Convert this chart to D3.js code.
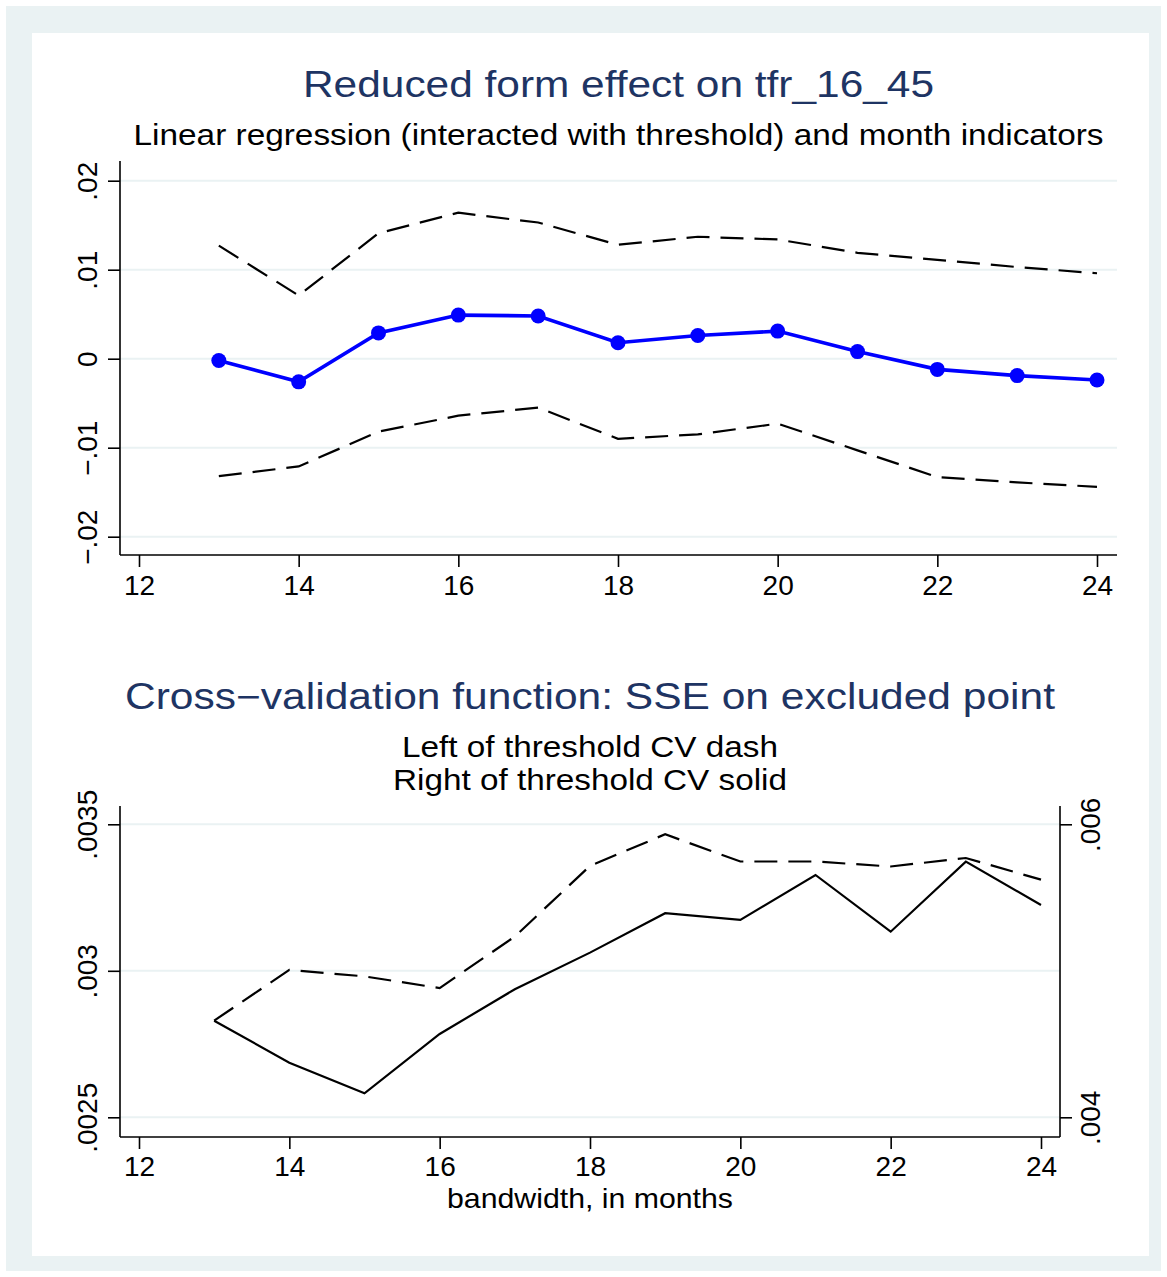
<!DOCTYPE html>
<html>
<head>
<meta charset="utf-8">
<script src="https://cdn.jsdelivr.net/npm/d3@7"></script>
<style>
  body { margin: 0; background: #fff; }
  text { font-family: "Liberation Sans", Arial, sans-serif; }
</style>
</head>
<body>
<script>
// bandwidth in months
const bandwidth = [13, 14, 15, 16, 17, 18, 19, 20, 21, 22, 23, 24];

// reduced form estimate and 95% band
const estimate = [-0.0002, -0.0026, 0.0029, 0.0049, 0.0048, 0.0018, 0.0026, 0.0031, 0.0008, -0.0012, -0.0019, -0.0024];
const ciUpper = [0.0127, 0.0071, 0.0141, 0.0164, 0.0153, 0.0128, 0.0137, 0.0134, 0.0119, 0.0111, 0.0103, 0.0096];
const ciLower = [-0.0132, -0.0121, -0.0082, -0.0064, -0.0055, -0.0090, -0.0085, -0.0073, -0.0103, -0.0133, -0.0139, -0.0144];

// cross-validation SSE, left (dash, left axis) and right (solid, right axis)
const cvLeft = [0.00283, 0.003003, 0.002981, 0.002941, 0.003117, 0.003358, 0.003466, 0.003373, 0.003373, 0.003356, 0.003385, 0.003311];
const cvRight = [0.004659, 0.004373, 0.004164, 0.004569, 0.004874, 0.005124, 0.005393, 0.005347, 0.005654, 0.005267, 0.005745, 0.005449];

// tick labels
const xTicks = [12, 14, 16, 18, 20, 22, 24];
const topTicks = [-0.02, -0.01, 0, 0.01, 0.02];
const topTickLabels = ['\u2212.02', '\u2212.01', '0', '.01', '.02'];
const cvLeftTicks = [0.0025, 0.003, 0.0035];
const cvLeftLabels = ['.0025', '.003', '.0035'];
const cvRightTicks = [0.004, 0.006];
const cvRightLabels = ['.004', '.006'];

function fn() {
  const W = 1167, H = 1277;
  const grid = '#eaf2f3';
  const navy = '#1e3463';

  const svg = d3.select('body').append('svg')
    .attr('width', W)
    .attr('height', H);

  // stata style frame
  svg.append('rect').attr('x', 6).attr('y', 6).attr('width', 1155).attr('height', 1265).attr('fill', grid);
  svg.append('rect').attr('x', 32).attr('y', 33).attr('width', 1117).attr('height', 1223).attr('fill', '#fff');

  function styleAxis(g) {
    g.selectAll('path.domain').attr('stroke', '#000').attr('stroke-width', 1.6);
    g.selectAll('.tick line').attr('stroke', '#000').attr('stroke-width', 1.6);
    g.selectAll('.tick text').attr('fill', '#000').style('font-size', '28px')
      .style('font-family', '"Liberation Sans", Arial, sans-serif');
  }

  // centred text, stretched to the width seen in the original export
  function label(x, y, size, len, str, color) {
    svg.append('text')
      .attr('x', x).attr('y', y)
      .attr('text-anchor', 'middle')
      .attr('fill', color || '#000')
      .attr('textLength', len)
      .attr('lengthAdjust', 'spacingAndGlyphs')
      .style('font-size', size + 'px')
      .text(str);
  }

  // ---------- top panel ----------
  let m1 = { left: 120, top: 161 },
    w1 = 997,
    h1 = 394;

  const x1 = d3.scaleLinear().domain([12, 24]).range([19, 977]);
  const y1 = d3.scaleLinear().domain([-0.02, 0.02]).range([375.7, 19.7]);

  const g1 = svg.append('g').attr('transform', `translate(${m1.left},${m1.top})`);

  g1.selectAll('.grid')
    .data(topTicks)
    .enter().append('line')
    .attr('x1', 0).attr('x2', w1)
    .attr('y1', d => y1(d)).attr('y2', d => y1(d))
    .attr('stroke', grid).attr('stroke-width', 2);

  const band = d3.line().x((d, i) => x1(bandwidth[i])).y(d => y1(d));
  [ciUpper, ciLower].forEach((s) => {
    g1.append('path')
      .attr('d', band(s))
      .attr('fill', 'none')
      .attr('stroke', '#000')
      .attr('stroke-width', 2.2)
      .attr('stroke-dasharray', '23,11');
  });

  g1.append('path')
    .attr('d', band(estimate))
    .attr('fill', 'none')
    .attr('stroke', '#0000ff')
    .attr('stroke-width', 3.6);

  g1.selectAll('.dot')
    .data(estimate)
    .enter().append('circle')
    .attr('cx', (d, i) => x1(bandwidth[i]))
    .attr('cy', d => y1(d))
    .attr('r', 7.5)
    .attr('fill', '#0000ff');

  const xa1 = g1.append('g')
    .attr('transform', `translate(0,${h1})`)
    .call(d3.axisBottom(x1).tickValues(xTicks).tickFormat(d3.format('d')).tickSize(12).tickSizeOuter(0));
  xa1.select('path.domain').attr('d', `M0,0H${w1}`);
  styleAxis(xa1);
  xa1.selectAll('.tick text').attr('y', 40).attr('dy', 0);

  const ya1 = g1.append('g')
    .call(d3.axisLeft(y1).tickValues(topTicks).tickFormat((d, i) => topTickLabels[i]).tickSize(12).tickSizeOuter(0));
  ya1.select('path.domain').attr('d', `M0,0V${h1}`);
  styleAxis(ya1);
  ya1.selectAll('.tick text')
    .attr('transform', 'rotate(-90)')
    .attr('x', 0).attr('y', -23).attr('dy', 0)
    .style('text-anchor', 'middle');

  label(m1.left + w1 / 2, 97, 36, 631, 'Reduced form effect on tfr_16_45', navy);
  label(m1.left + w1 / 2, 145, 29, 970, 'Linear regression (interacted with threshold) and month indicators');

  // ---------- bottom panel ----------
  let m2 = { left: 120, top: 806 },
    w2 = 940,
    h2 = 331;

  const x2 = d3.scaleLinear().domain([12, 24]).range([19, 921]);
  const yL = d3.scaleLinear().domain([0.0025, 0.0035]).range([311.3, 18.3]);
  const yR = d3.scaleLinear().domain([0.004, 0.006]).range([311.3, 18.3]);

  const g2 = svg.append('g').attr('transform', `translate(${m2.left},${m2.top})`);

  g2.selectAll('.grid')
    .data(cvLeftTicks)
    .enter().append('line')
    .attr('x1', 0).attr('x2', w2)
    .attr('y1', d => yL(d)).attr('y2', d => yL(d))
    .attr('stroke', grid).attr('stroke-width', 2);

  g2.append('path')
    .attr('d', d3.line().x((d, i) => x2(bandwidth[i])).y(d => yL(d))(cvLeft))
    .attr('fill', 'none')
    .attr('stroke', '#000')
    .attr('stroke-width', 2.2)
    .attr('stroke-dasharray', '23,11');

  g2.append('path')
    .attr('d', d3.line().x((d, i) => x2(bandwidth[i])).y(d => yR(d))(cvRight))
    .attr('fill', 'none')
    .attr('stroke', '#000')
    .attr('stroke-width', 2.2);

  const xa2 = g2.append('g')
    .attr('transform', `translate(0,${h2})`)
    .call(d3.axisBottom(x2).tickValues(xTicks).tickFormat(d3.format('d')).tickSize(12).tickSizeOuter(0));
  xa2.select('path.domain').attr('d', `M0,0H${w2}`);
  styleAxis(xa2);
  xa2.selectAll('.tick text').attr('y', 39).attr('dy', 0);

  const ya2 = g2.append('g')
    .call(d3.axisLeft(yL).tickValues(cvLeftTicks).tickFormat((d, i) => cvLeftLabels[i]).tickSize(12).tickSizeOuter(0));
  ya2.select('path.domain').attr('d', `M0,0V${h2}`);
  styleAxis(ya2);
  ya2.selectAll('.tick text')
    .attr('transform', 'rotate(-90)')
    .attr('x', 0).attr('y', -23).attr('dy', 0)
    .style('text-anchor', 'middle');

  const yr2 = g2.append('g')
    .attr('transform', `translate(${w2},0)`)
    .call(d3.axisRight(yR).tickValues(cvRightTicks).tickFormat((d, i) => cvRightLabels[i]).tickSize(12).tickSizeOuter(0));
  yr2.select('path.domain').attr('d', `M0,0V${h2}`);
  styleAxis(yr2);
  yr2.selectAll('.tick text')
    .attr('transform', 'rotate(-90)')
    .attr('x', 0).attr('y', 40).attr('dy', 0)
    .style('text-anchor', 'middle');

  label(m2.left + w2 / 2, 709, 36, 930, 'Cross\u2212validation function: SSE on excluded point', navy);
  label(m2.left + w2 / 2, 757, 29, 376, 'Left of threshold CV dash');
  label(m2.left + w2 / 2, 790, 29, 394, 'Right of threshold CV solid');
  label(m2.left + w2 / 2, 1208, 28, 286, 'bandwidth, in months');
}

fn();
</script>
</body>
</html>
